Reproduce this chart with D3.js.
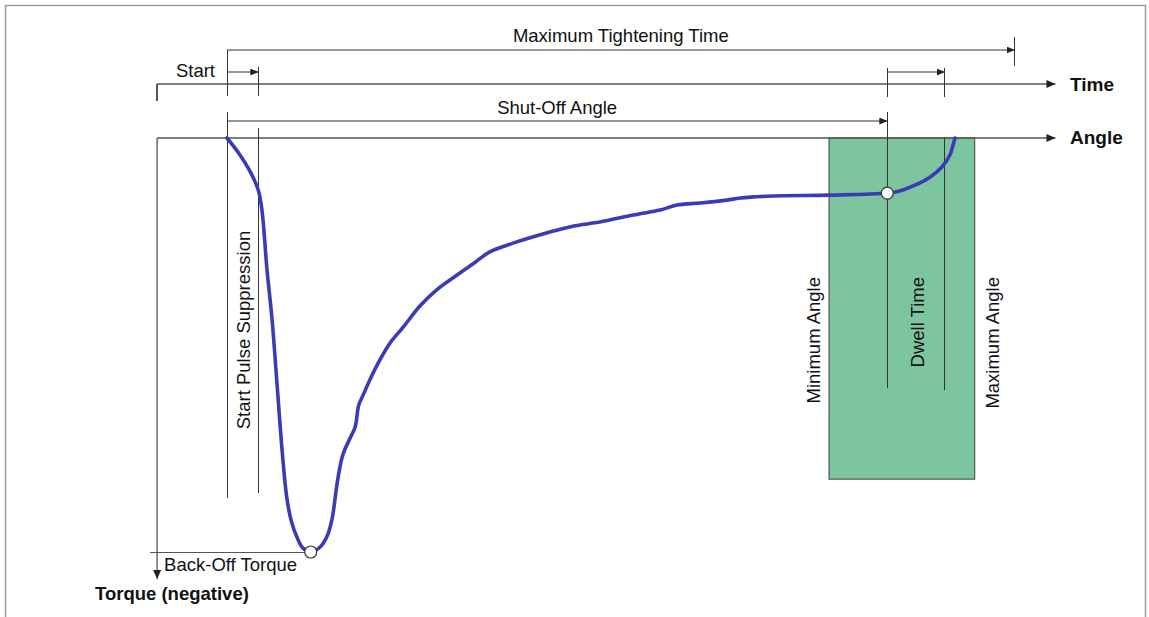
<!DOCTYPE html>
<html>
<head>
<meta charset="utf-8">
<script src="https://cdn.jsdelivr.net/npm/d3@7"></script>
<style>
  html, body { margin: 0; padding: 0; background: #fff; }
  svg { display: block; font-family: "Liberation Sans", Arial, sans-serif; }
</style>
</head>
<body>
<svg id="chart" width="1149" height="617"></svg>
<script>
// ---- Data (angle in % of max, torque magnitude in % of back-off torque) ----
const curveAngle  = [0, 1.5, 3.2, 4.3, 4.8, 5.5, 6.2, 6.9, 7.6, 8.2, 8.8, 9.6, 10.4, 11.5, 12.8, 13.7, 14.4, 15.2, 15.9, 16.9, 17.6, 18.1, 18.7, 19.6, 21.0, 22.4, 24.2, 26.5, 28.8, 31.6, 34.1, 36.1, 39.3, 44.0, 47.5, 51.2, 55.8, 59.5, 61.8, 65.0, 68.7, 70.5, 75.0, 82.8, 90.7, 92.4, 94.5, 96.6, 98.2, 99.3, 99.7, 100];
const curveTorque = [0, 3.4, 8.2, 12.6, 17.4, 31.9, 44.0, 60.1, 76.1, 86.7, 92.3, 96.4, 99.0, 100, 98.8, 96.4, 92.3, 82.6, 76.6, 72.5, 69.8, 64.5, 62.1, 58.5, 53.6, 49.5, 45.7, 40.6, 36.7, 33.1, 30.0, 27.5, 25.4, 22.9, 21.3, 20.3, 18.6, 17.4, 16.2, 15.7, 15.0, 14.5, 14.0, 13.8, 13.3, 12.8, 11.4, 9.4, 7.0, 4.1, 1.9, 0];

// key positions (angle units)
const axisOriginAngle   = -9.6;
const axisEndAngle      = 113.8;
const startAngle        = 0;
const startPulseEnd     = 4.3;
const minAngle          = 82.7;
const shutOffAngle      = 90.7;
const dwellEnd          = 98.6;
const maxAngle          = 102.7;
const maxTighteningTime = 108.2;
const backOffPoint      = [11.5, 100];
const shutOffPoint      = [90.7, 13.3];
const windowTorqueDepth = 82.4;
const axisTorqueEnd     = 106.5;

const labels = {
  maxTime: "Maximum Tightening Time",
  start: "Start",
  time: "Time",
  shutOff: "Shut-Off Angle",
  angle: "Angle",
  startPulse: "Start Pulse Suppression",
  minAngle: "Minimum Angle",
  dwell: "Dwell Time",
  maxAngle: "Maximum Angle",
  backOff: "Back-Off Torque",
  torque: "Torque (negative)"
};

// ---- Scales ----
const x = d3.scaleLinear().domain([0, 100]).range([227, 955]);
const y = d3.scaleLinear().domain([0, 100]).range([138, 552]);

// rows above angle axis (layout)
const rowMaxTime = 50, rowStart = 72, rowTime = 84, rowShut = 121;

const svg = d3.select("#chart");
const ink = "#333";
const axisInk = "#555";
const fs = 18.5;

// frame
svg.append("path").attr("d", "M5.5,640 V5.5 H1145.5 V640")
  .attr("fill", "none").attr("stroke", "#9a9a9a").attr("stroke-width", 1.5);

// arrow markers
const defs = svg.append("defs");
function marker(id, w, h) {
  defs.append("marker").attr("id", id)
    .attr("viewBox", `0 0 ${w} ${h}`).attr("refX", w).attr("refY", h / 2)
    .attr("markerWidth", w).attr("markerHeight", h)
    .attr("markerUnits", "userSpaceOnUse").attr("orient", "auto")
    .append("path").attr("d", `M0,0 L${w},${h/2} L0,${h} Z`).attr("fill", "#222");
}
marker("arrowBig", 9, 8);
marker("arrowSmall", 8, 7);

function line(x1, y1, x2, y2, opts = {}) {
  const l = svg.append("line")
    .attr("x1", x1).attr("y1", y1).attr("x2", x2).attr("y2", y2)
    .attr("stroke", opts.stroke || ink).attr("stroke-width", opts.w || 1)
    .attr("shape-rendering", "crispEdges");
  if (opts.arrow) l.attr("marker-end", `url(#${opts.arrow})`).attr("shape-rendering", null);
  return l;
}
function text(t, tx, ty, opts = {}) {
  return svg.append("text").attr("x", tx).attr("y", ty).text(t)
    .attr("font-size", opts.size || fs)
    .attr("font-weight", opts.bold ? "bold" : "normal")
    .attr("text-anchor", opts.anchor || "start")
    .attr("fill", "#111");
}
function vtext(t, cx, cy, anchor) {
  return svg.append("text").attr("transform", `translate(${cx},${cy}) rotate(-90)`)
    .text(t).attr("font-size", fs).attr("text-anchor", anchor)
    .attr("fill", "#111");
}

// ---- Tolerance window (green) ----
svg.append("rect")
  .attr("x", x(minAngle)).attr("y", y(0))
  .attr("width", x(maxAngle) - x(minAngle)).attr("height", y(windowTorqueDepth) - y(0))
  .attr("fill", "#7cc59f").attr("stroke", "#555").attr("stroke-width", 1.2);

// ---- Axes ----
line(x(axisOriginAngle), rowTime, x(axisEndAngle), rowTime, { stroke: axisInk, w: 1.3, arrow: "arrowBig" });
line(x(axisOriginAngle), rowTime, x(axisOriginAngle), rowTime + 17, { stroke: axisInk, w: 1.3 });
line(x(axisOriginAngle), y(0), x(axisEndAngle), y(0), { stroke: axisInk, w: 1.3, arrow: "arrowBig" });
line(x(axisOriginAngle), y(0), x(axisOriginAngle), y(axisTorqueEnd), { stroke: axisInk, w: 1.3, arrow: "arrowBig" });

// ---- Maximum tightening time ----
line(x(startAngle), rowMaxTime, x(maxTighteningTime), rowMaxTime, { arrow: "arrowSmall" });
line(x(startAngle), rowMaxTime, x(startAngle), rowTime + 12);
line(x(maxTighteningTime), rowMaxTime - 13, x(maxTighteningTime), rowMaxTime + 16);
text(labels.maxTime, (x(startAngle) + x(maxTighteningTime)) / 2, rowMaxTime - 8, { anchor: "middle" });

// ---- Start ----
line(x(startAngle), rowStart, x(startPulseEnd), rowStart, { arrow: "arrowSmall" });
line(x(startPulseEnd), rowStart - 5, x(startPulseEnd), rowTime + 12);
text(labels.start, x(startAngle) - 12, rowStart + 5, { anchor: "end" });

// ---- Dwell bracket on time axis ----
line(x(shutOffAngle), rowStart, x(dwellEnd), rowStart, { arrow: "arrowSmall" });
line(x(shutOffAngle), rowStart - 4, x(shutOffAngle), rowTime + 13);
line(x(dwellEnd), rowStart - 4, x(dwellEnd), rowTime + 13);

// ---- Shut-off angle ----
line(x(startAngle), rowShut, x(shutOffAngle), rowShut, { arrow: "arrowSmall" });
text(labels.shutOff, (x(startAngle) + x(shutOffAngle)) / 2, rowShut - 7, { anchor: "middle" });

// ---- Vertical reference lines ----
line(x(startAngle), rowShut - 9, x(startAngle), y(87));
line(x(startPulseEnd), y(0) - 10, x(startPulseEnd), y(85.7));
line(x(shutOffAngle), rowShut - 9, x(shutOffAngle), y(60.5));
line(x(dwellEnd), y(0), x(dwellEnd), y(60.9));

// ---- Back-off torque line ----
line(x(axisOriginAngle) - 7, y(backOffPoint[1]), x(backOffPoint[0]), y(backOffPoint[1]), { stroke: "#555" });
text(labels.backOff, x(axisOriginAngle) + 7, y(backOffPoint[1]) + 19);

// ---- Curve ----
const pts = curveAngle.map((a, i) => [a, curveTorque[i]]);
svg.append("path").datum(pts)
  .attr("d", d3.line().x(d => x(d[0])).y(d => y(d[1])).curve(d3.curveCatmullRom.alpha(0.5)))
  .attr("fill", "none").attr("stroke", "#3b3bb5").attr("stroke-width", 3.6)
  .attr("stroke-linejoin", "round").attr("stroke-linecap", "round");

// markers
[backOffPoint, shutOffPoint].forEach(p => {
  svg.append("circle").attr("cx", x(p[0])).attr("cy", y(p[1])).attr("r", 6)
    .attr("fill", "#fff").attr("stroke", "#333").attr("stroke-width", 1.2);
});

// ---- Axis labels ----
text(labels.time, 1070, rowTime + 7, { bold: true, size: 19 });
text(labels.angle, 1070, y(0) + 6, { bold: true, size: 19 });
text(labels.torque, 95, 600, { bold: true, size: 18.5 });

// ---- Rotated labels ----
vtext(labels.startPulse, x(startAngle) + 23, 330, "middle");
vtext(labels.minAngle, x(minAngle) - 9, 277, "end");
vtext(labels.dwell, x(shutOffAngle) + 37, 277, "end");
vtext(labels.maxAngle, x(maxAngle) + 24, 277, "end");
</script>
</body>
</html>
